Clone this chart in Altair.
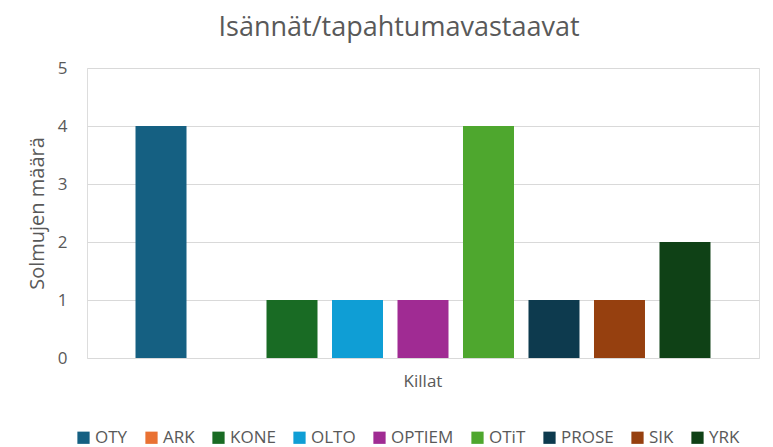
import altair as alt
import pandas as pd

kilta = ["OTY", "ARK", "KONE", "OLTO", "OPTIEM", "OTiT", "PROSE", "SIK", "YRK"]
maara = [4, 0, 1, 1, 1, 4, 1, 1, 2]
varit = ["#156082", "#E97132", "#196B24", "#0F9ED5", "#A02B93", "#4EA72E", "#0D3A4E", "#96400F", "#0F4116"]

df = pd.DataFrame({"ryhma": ["Killat"] * len(kilta), "kilta": kilta, "maara": maara})

font = "Open Sans"
gray = "#595959"

chart = alt.Chart(df).mark_bar(size=51).encode(
    x=alt.X("ryhma:N", title=None,
            scale=alt.Scale(paddingInner=0, paddingOuter=0.07),
            axis=alt.Axis(labelAngle=0, labelFontSize=17, labelColor=gray, labelFont=font,
                          ticks=False, domain=False, labelPadding=15)),
    xOffset=alt.XOffset("kilta:N", sort=kilta,
                        scale=alt.Scale(paddingInner=0.22, paddingOuter=0.11)),
    y=alt.Y("maara:Q", title="Solmujen määrä",
            scale=alt.Scale(domain=[0, 5]),
            axis=alt.Axis(values=[0, 1, 2, 3, 4, 5], labelFontSize=17, labelColor=gray,
                          labelFont=font, titleFont=font, titleFontSize=20, titleColor=gray,
                          titleFontWeight="normal", ticks=False, domain=False,
                          gridColor="#D9D9D9", labelPadding=20, titlePadding=10)),
    color=alt.Color("kilta:N", sort=kilta,
                    scale=alt.Scale(domain=kilta, range=varit),
                    legend=alt.Legend(title=None, orient="none", legendX=-12, legendY=361,
                                      direction="horizontal", columns=9,
                                      symbolType="square", symbolSize=150, symbolStrokeWidth=0,
                                      labelFontSize=17, labelColor=gray, labelFont=font,
                                      columnPadding=15, symbolOffset=0, labelOffset=3)),
).properties(
    width=672,
    height=290,
    padding={"left": 19, "right": 5, "top": 6, "bottom": 5},
    title=alt.Title("Isännät/tapahtumavastaavat", fontSize=27, font=font, color=gray,
                    fontWeight="normal", offset=17, dx=-24),
).configure_view(stroke=None).configure(background="white")

chart.save("out.html", embed_options={"renderer": "svg", "actions": False})
